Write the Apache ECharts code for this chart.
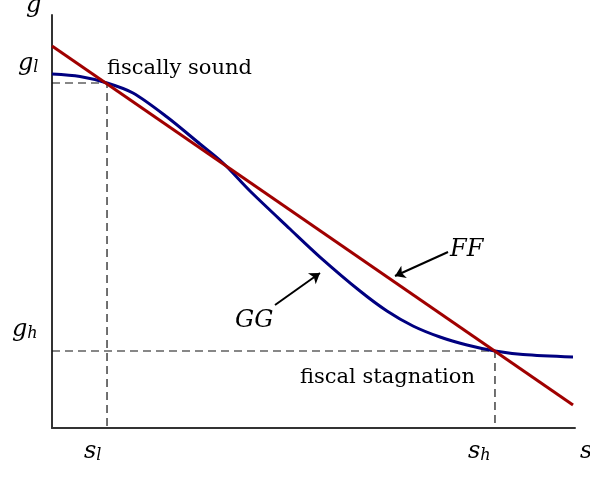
<!DOCTYPE html>
<html><head><meta charset="utf-8">
<script src="https://cdn.jsdelivr.net/npm/echarts@6/dist/echarts.min.js"></script>
<style>html,body{margin:0;padding:0;background:#fff}#c{width:590px;height:477px}</style>
</head><body><div id="c"></div>
<script>
// GG curve (x = s, y = g)
const ggS = [0, 0.535, 1.052, 1.549, 2.199, 2.830, 3.270, 3.786, 4.551, 5.124, 5.889, 6.405, 6.902, 7.419, 7.935, 8.470, 9.006, 9.962];
const ggG = [8.571, 8.511, 8.354, 8.111, 7.530, 6.877, 6.416, 5.738, 4.818, 4.140, 3.317, 2.833, 2.470, 2.203, 2.010, 1.864, 1.780, 1.719];
// FF line
const ffS = [0, 9.962];
const ffG = [9.25, 0.557];
// equilibria
const sTicks = [1.052, 8.470];
const gTicks = [8.354, 1.864];
// arrows [from, to]
const arrowGG = [[4.264, 2.978], [5.124, 3.753]];
const arrowFF = [[7.572, 4.262], [6.558, 3.680]];

const chart = echarts.init(document.getElementById('c'));
const F = 'DejaVu Serif';
const txt = (left, top, text, size) => ({
  type: 'text', left, top,
  style: { text, font: `italic ${size}px "${F}"`, fill: '#000',
    rich: {
      i: { fontFamily: F, fontStyle: 'italic', fontSize: 24 },
      sub: { fontFamily: F, fontStyle: 'italic', fontSize: 16, padding: [8, 0, 0, 0] }
    } }
});

chart.setOption({
  animation: false,
  grid: { left: 52, top: 15, width: 523, height: 413 },
  xAxis: { type: 'value', min: 0, max: 10, axisLine: { lineStyle: { color: '#333', width: 2 } },
    axisTick: { show: false }, axisLabel: { show: false }, splitLine: { show: false } },
  yAxis: { type: 'value', min: 0, max: 10, axisLine: { show: true, lineStyle: { color: '#333', width: 2 } },
    axisTick: { show: false }, axisLabel: { show: false }, splitLine: { show: false } },
  series: [
    { type: 'line', data: [[0, gTicks[0]], [sTicks[0], gTicks[0]], [sTicks[0], 0]], symbol: 'none',
      lineStyle: { color: '#111', width: 1.2, type: [8, 5] }, z: 1 },
    { type: 'line', data: [[0, gTicks[1]], [sTicks[1], gTicks[1]], [sTicks[1], 0]], symbol: 'none',
      lineStyle: { color: '#111', width: 1.2, type: [8, 5] }, z: 1 },
    { name: 'GG', type: 'line', data: ggS.map((s, i) => [s, ggG[i]]), symbol: 'none', smooth: 0.3,
      lineStyle: { color: '#000080', width: 3 }, z: 3 },
    { name: 'FF', type: 'line', data: ffS.map((s, i) => [s, ffG[i]]), symbol: 'none',
      lineStyle: { color: '#a00000', width: 3 }, z: 4 },
    { type: 'lines', coordinateSystem: 'cartesian2d', symbol: ['none', 'arrow'], symbolSize: 10,
      lineStyle: { color: '#000', width: 2, opacity: 1 },
      data: [{ coords: arrowGG }, { coords: arrowFF }], z: 5 }
  ],
  graphic: [
    txt(26, -6, '{i|g}', 24),
    txt(18, 52, '{i|g}{sub|l}', 24),
    txt(12, 318, '{i|g}{sub|h}', 24),
    txt(84, 440, '{i|s}{sub|l}', 24),
    txt(468, 440, '{i|s}{sub|h}', 24),
    txt(580, 440, '{i|s}', 24),
    txt(235, 309, '{i|GG}', 22),
    txt(450, 238, '{i|FF}', 22),
    { type: 'text', left: 107, top: 58, style: { text: 'fiscally sound', font: `21px "${F}"`, fill: '#000' } },
    { type: 'text', left: 300, top: 367, style: { text: 'fiscal stagnation', font: `21px "${F}"`, fill: '#000' } }
  ]
});
</script></body></html>
